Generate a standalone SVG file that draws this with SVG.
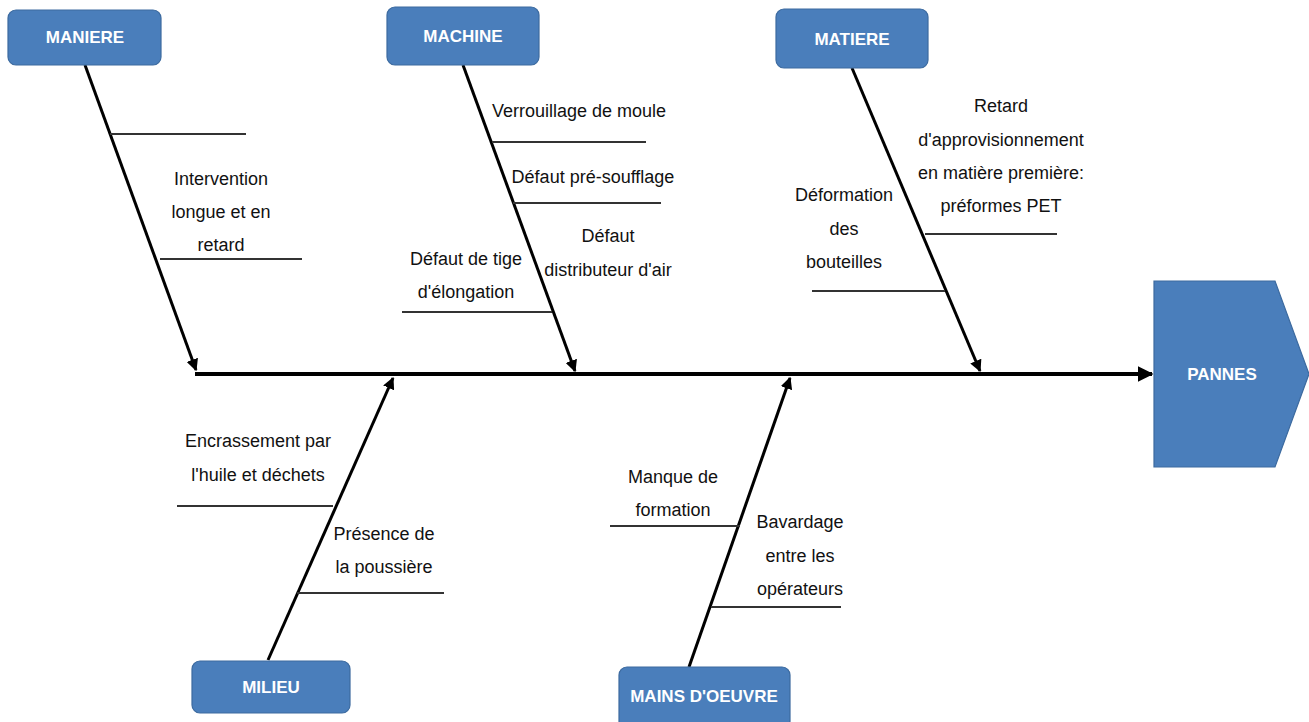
<svg xmlns="http://www.w3.org/2000/svg" width="1309" height="722" viewBox="0 0 1309 722">
<style>
.box{fill:#4a7ebb;stroke:#3c6a9f;stroke-width:1.2}
.bl{font-family:"Liberation Sans Narrow","Liberation Sans",sans-serif;font-weight:bold;font-size:17px;fill:#fff;text-anchor:middle}
.t{font-family:"Liberation Sans Narrow","Liberation Sans",sans-serif;font-size:18px;fill:#111;text-anchor:middle}
.br{stroke:#000;stroke-width:3;fill:none}
.sub{stroke:#333;stroke-width:2;fill:none}
.spine{stroke:#000;stroke-width:4;fill:none}
</style>
<defs>
<marker id="ah" viewBox="0 0 10 10" refX="9" refY="5" markerWidth="4" markerHeight="4" orient="auto" markerUnits="strokeWidth">
<path d="M0,0 L10,5 L0,10 z" fill="#000"/>
</marker>
</defs>
<rect width="1309" height="722" fill="#fff"/>
<g id="connectors">
<line class="spine" x1="195" y1="374" x2="1152" y2="374" marker-end="url(#ah)"/>
<line class="br" x1="85" y1="65" x2="196" y2="370" marker-end="url(#ah)"/>
<line class="br" x1="463" y1="65" x2="575" y2="371" marker-end="url(#ah)"/>
<line class="br" x1="852" y1="68" x2="980" y2="371" marker-end="url(#ah)"/>
<line class="br" x1="268" y1="660" x2="393" y2="378" marker-end="url(#ah)"/>
<line class="br" x1="689" y1="667" x2="790" y2="378" marker-end="url(#ah)"/>
<line class="sub" x1="110" y1="134" x2="246" y2="134"/>
<line class="sub" x1="160" y1="259" x2="302" y2="259"/>
<line class="sub" x1="492" y1="142" x2="646" y2="142"/>
<line class="sub" x1="513" y1="203" x2="661" y2="203"/>
<line class="sub" x1="402" y1="312" x2="552" y2="312"/>
<line class="sub" x1="925" y1="234" x2="1057" y2="234"/>
<line class="sub" x1="812" y1="291" x2="945" y2="291"/>
<line class="sub" x1="177" y1="506" x2="333" y2="506"/>
<line class="sub" x1="297" y1="593" x2="444" y2="593"/>
<line class="sub" x1="610" y1="526" x2="740" y2="526"/>
<line class="sub" x1="711" y1="607" x2="841" y2="607"/>
</g>
<g id="maniere">
<rect class="box" x="8" y="10" width="153" height="55" rx="8"/>
<text class="bl" x="85" y="43">MANIERE</text>
<text class="t" x="221" y="185">Intervention</text>
<text class="t" x="221" y="218">longue et en</text>
<text class="t" x="221" y="251">retard</text>
</g>
<g id="machine">
<rect class="box" x="387" y="7" width="152" height="58" rx="8"/>
<text class="bl" x="463" y="42">MACHINE</text>
<text class="t" x="579" y="117">Verrouillage de moule</text>
<text class="t" x="593" y="183">Défaut pré-soufflage</text>
<text class="t" x="608" y="242">Défaut</text>
<text class="t" x="608" y="276">distributeur d'air</text>
<text class="t" x="466" y="265">Défaut de tige</text>
<text class="t" x="466" y="298">d'élongation</text>
</g>
<g id="matiere">
<rect class="box" x="776" y="9" width="152" height="59" rx="8"/>
<text class="bl" x="852" y="45">MATIERE</text>
<text class="t" x="1001" y="112">Retard</text>
<text class="t" x="1001" y="146">d'approvisionnement</text>
<text class="t" x="1001" y="179">en matière première:</text>
<text class="t" x="1001" y="212">préformes PET</text>
<text class="t" x="844" y="201">Déformation</text>
<text class="t" x="844" y="235">des</text>
<text class="t" x="844" y="268">bouteilles</text>
</g>
<g id="pannes">
<path class="box" d="M1154,281 L1275,281 L1309,374 L1275,467 L1154,467 Z"/>
<text class="bl" x="1222" y="380">PANNES</text>
</g>
<g id="milieu">
<rect class="box" x="192" y="661" width="158" height="52" rx="8"/>
<text class="bl" x="271" y="693">MILIEU</text>
<text class="t" x="258" y="447">Encrassement par</text>
<text class="t" x="258" y="481">l'huile et déchets</text>
<text class="t" x="384" y="540">Présence de</text>
<text class="t" x="384" y="573">la poussière</text>
</g>
<g id="mains">
<rect class="box" x="619" y="667" width="171" height="62" rx="8"/>
<text class="bl" x="704" y="702">MAINS D'OEUVRE</text>
<text class="t" x="673" y="483">Manque de</text>
<text class="t" x="673" y="516">formation</text>
<text class="t" x="800" y="528">Bavardage</text>
<text class="t" x="800" y="562">entre les</text>
<text class="t" x="800" y="595">opérateurs</text>
</g>
</svg>
